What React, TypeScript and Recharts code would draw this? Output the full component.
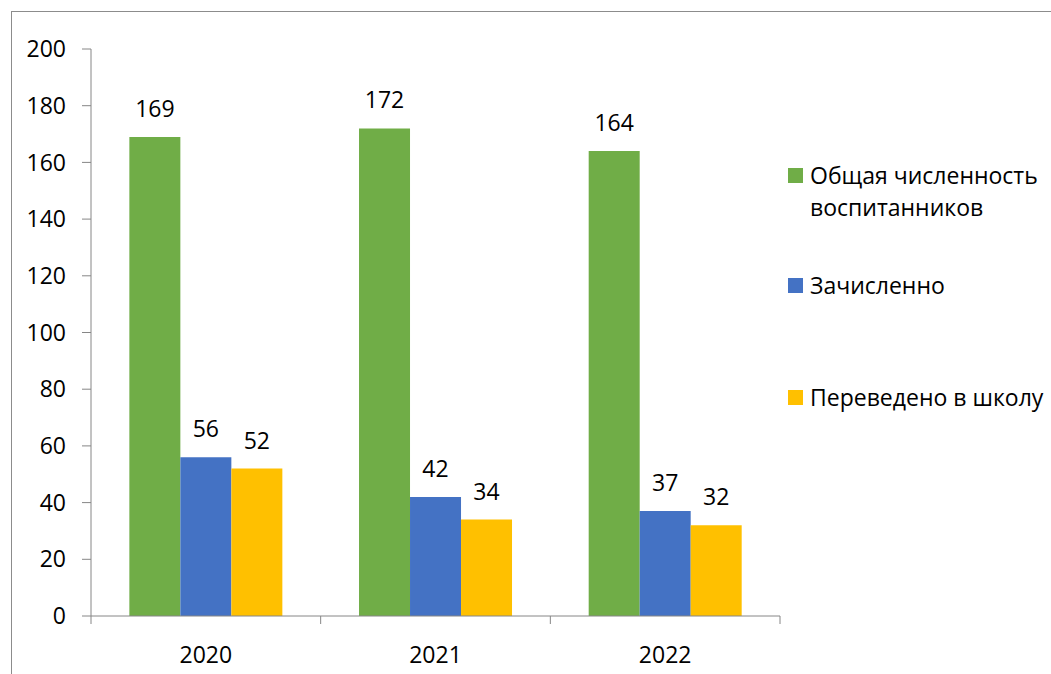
import React from "react";
import { BarChart, Bar, XAxis, YAxis, LabelList, Legend } from "recharts";

// Численность воспитанников по годам
const years = ["2020", "2021", "2022"];
const totalPupils = [169, 172, 164];
const enrolled = [56, 42, 37];
const transferred = [52, 34, 32];
const yTicks = [0, 20, 40, 60, 80, 100, 120, 140, 160, 180, 200];

const seriesKeys = ["total", "enrolled", "transferred"];
const seriesNames = [
  "Общая численность воспитанников",
  "Зачисленно",
  "Переведено в школу",
];
const seriesColors = ["#70AD47", "#4472C4", "#FFC000"];

const data = years.map((year, i) => ({
  year,
  total: totalPupils[i],
  enrolled: enrolled[i],
  transferred: transferred[i],
}));

const WIDTH = 1051;
const HEIGHT = 674;
const MARGIN = { top: 49, right: 271, bottom: 0, left: 0 };
const Y_AXIS_WIDTH = 91;
const X_AXIS_HEIGHT = 58;
const BAND = (WIDTH - MARGIN.left - MARGIN.right - Y_AXIS_WIDTH) / years.length;
const AXIS_COLOR = "#868686";
const FONT = "'Open Sans', sans-serif";
const FONT_SIZE = 23;

const XTick = (props: any) => {
  const { x, y, payload, index } = props;
  const half = BAND / 2;
  return (
    <g>
      <line x1={x - half} y1={y} x2={x - half} y2={y + 8} stroke={AXIS_COLOR} />
      {index === years.length - 1 && (
        <line x1={x + half} y1={y} x2={x + half} y2={y + 8} stroke={AXIS_COLOR} />
      )}
      <text
        x={x}
        y={y + 38}
        textAnchor="middle"
        dominantBaseline="central"
        fill="#000"
        fontSize={FONT_SIZE}
        fontFamily={FONT}
      >
        {payload.value}
      </text>
    </g>
  );
};

// legend item tops (first text line centre = top + 16)
const legendTops = [0, 110, 222];

const CustomLegend = () => (
  <div style={{ position: "relative", fontFamily: FONT, fontSize: FONT_SIZE, color: "#000" }}>
    {seriesNames.map((name, i) => (
      <div
        key={name}
        style={{ position: "absolute", left: 0, top: legendTops[i], display: "flex", alignItems: "flex-start" }}
      >
        <span
          style={{
            display: "inline-block",
            width: 15,
            height: 15,
            background: seriesColors[i],
            marginTop: 9,
            marginRight: 7,
            flexShrink: 0,
          }}
        />
        <span style={{ lineHeight: "32px", width: 245, whiteSpace: i === 0 ? "normal" : "nowrap" }}>
          {name}
        </span>
      </div>
    ))}
  </div>
);

export default function App() {
  return (
    <div
      style={{
        position: "absolute",
        left: 0,
        top: 0,
        width: WIDTH,
        height: HEIGHT,
        overflow: "hidden",
        background: "#fff",
      }}
    >
      <div
        style={{
          position: "absolute",
          left: 11,
          top: 11,
          width: 1100,
          height: 720,
          border: "1px solid #8c8c8c",
        }}
      />
      <div style={{ position: "absolute", left: 0, top: 0 }}>
        <BarChart
          width={WIDTH}
          height={HEIGHT}
          data={data}
          margin={MARGIN}
          barCategoryGap="16.7%"
          barGap={0}
        >
          <XAxis
            dataKey="year"
            height={X_AXIS_HEIGHT}
            axisLine={{ stroke: AXIS_COLOR }}
            tickLine={false}
            tickSize={0}
            tickMargin={0}
            tick={<XTick />}
            interval={0}
          />
          <YAxis
            width={Y_AXIS_WIDTH}
            domain={[0, 200]}
            ticks={yTicks}
            interval={0}
            axisLine={{ stroke: AXIS_COLOR }}
            tickLine={{ stroke: AXIS_COLOR }}
            tickSize={9}
            tickMargin={16}
            tick={{ fill: "#000", fontSize: FONT_SIZE, fontFamily: FONT }}
          />
          <Legend
            content={<CustomLegend />}
            wrapperStyle={{ position: "absolute", left: 788, top: 159, width: 263 }}
          />
          {seriesKeys.map((key, i) => (
            <Bar key={key} dataKey={key} name={seriesNames[i]} fill={seriesColors[i]} isAnimationActive={false}>
              <LabelList
                dataKey={key}
                position="top"
                offset={20}
                fill="#000"
                fontSize={FONT_SIZE}
                fontFamily={FONT}
              />
            </Bar>
          ))}
        </BarChart>
      </div>
    </div>
  );
}
